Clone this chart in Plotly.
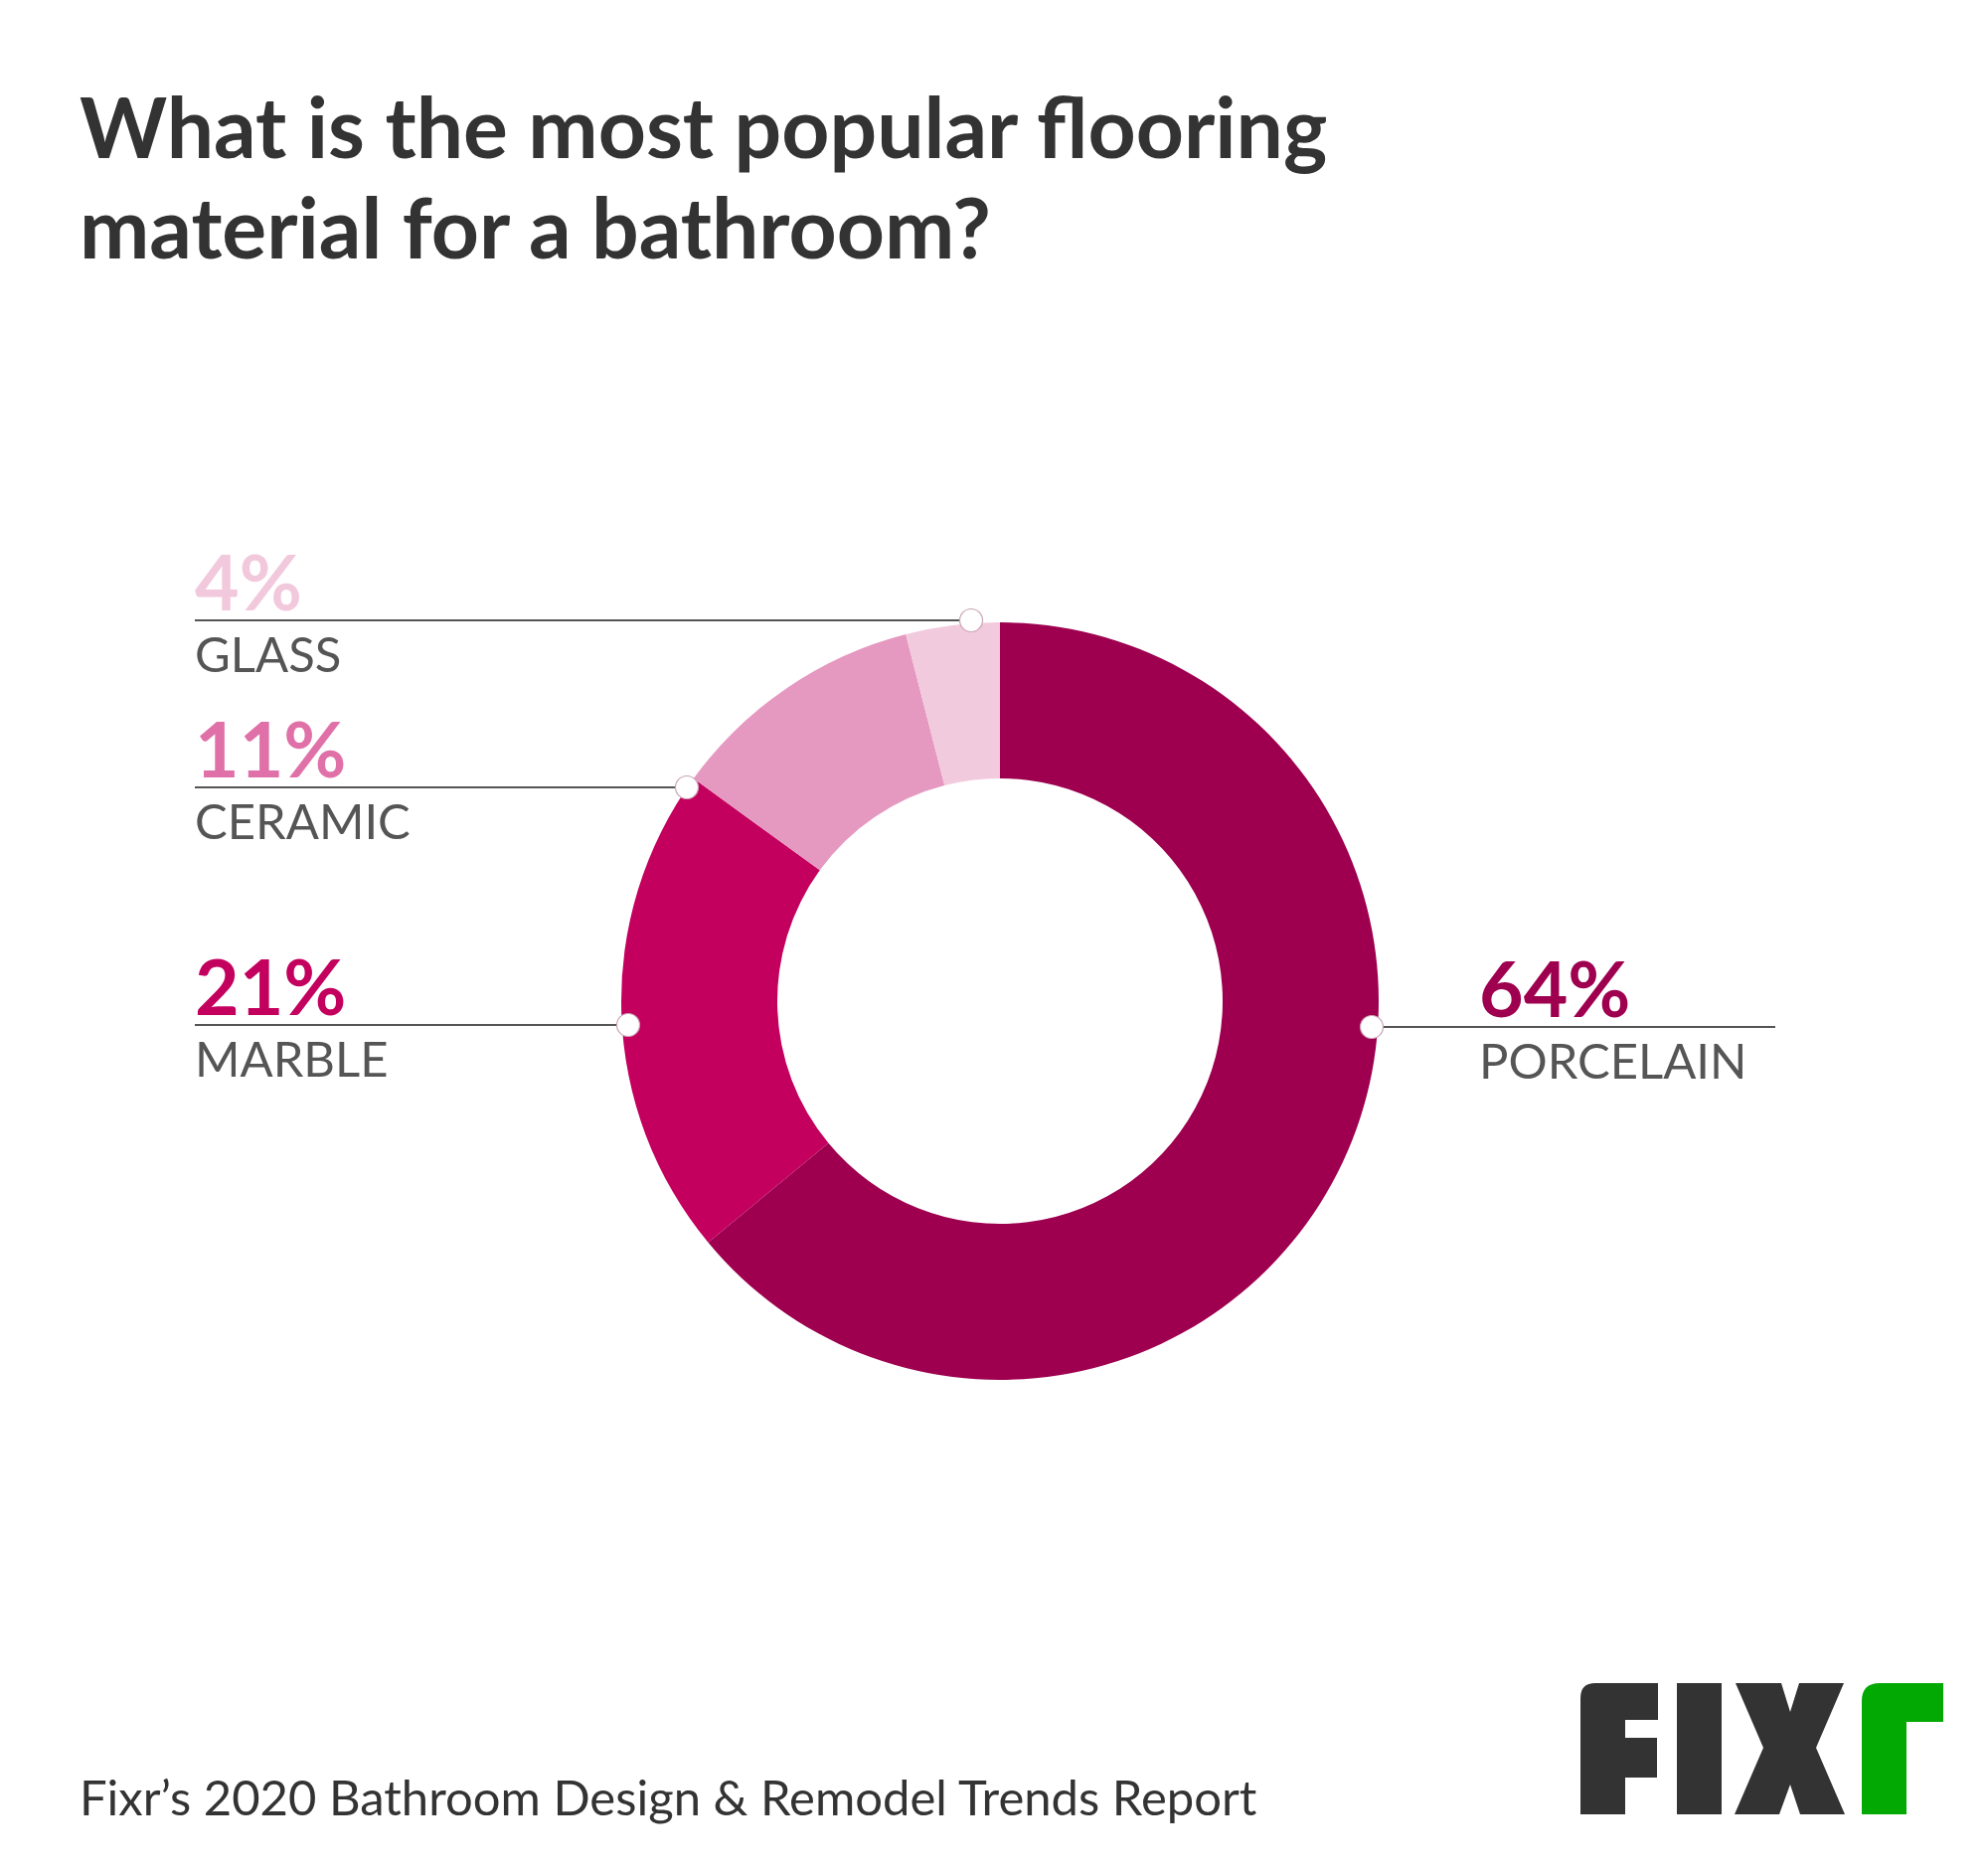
import plotly.graph_objects as go

# ---------------- data ----------------
materials = ["PORCELAIN", "MARBLE", "CERAMIC", "GLASS"]
shares = [64, 21, 11, 4]
slice_colors = ["#9E004F", "#C4005F", "#E699C0", "#F2CADD"]
label_colors = ["#9E004F", "#C4005F", "#E070A8", "#F2C8DC"]

title_lines = ["What is the most popular flooring", "material for a bathroom?"]
source_text = "Fixr\u2019s 2020 Bathroom Design & Remodel Trends Report"

# ---------------- layout constants (pixels) ----------------
W, H = 2000, 1883
CX, CY, R = 1006, 1007, 381
INNER = 224
FONT = "Lato, 'Open Sans', sans-serif"

# leader rows: (line y, dot x, side)
leader = {
    "PORCELAIN": (1033, 1380, "right"),
    "MARBLE": (1031, 632, "left"),
    "CERAMIC": (792, 691, "left"),
    "GLASS": (624, 977, "left"),
}
LEFT_X = 196
RIGHT_END = 1786
RIGHT_TEXT_X = 1488


def px(x):
    return x / W


def py(y):
    return 1 - y / H


fig = go.Figure()

fig.add_trace(go.Pie(
    labels=materials,
    values=shares,
    marker=dict(colors=slice_colors, line=dict(width=0)),
    hole=INNER / R,
    sort=False,
    direction="clockwise",
    rotation=0,
    textinfo="none",
    hoverinfo="none",
    showlegend=False,
    domain=dict(x=[px(CX - R), px(CX + R)], y=[py(CY + R), py(CY - R)]),
))

shapes = []
annotations = []

for name, val, lc in zip(materials, shares, label_colors):
    ly, dot_x, sd = leader[name]
    if sd == "left":
        x0, x1 = LEFT_X, dot_x
        tx = LEFT_X
    else:
        x0, x1 = dot_x, RIGHT_END
        tx = RIGHT_TEXT_X
    shapes.append(dict(type="line", xref="paper", yref="paper",
                       x0=px(x0), x1=px(x1), y0=py(ly), y1=py(ly),
                       line=dict(color="#555555", width=2), layer="above"))
    rr = 11.5
    shapes.append(dict(type="circle", xref="paper", yref="paper",
                       x0=px(dot_x - rr), x1=px(dot_x + rr), y0=py(ly + rr), y1=py(ly - rr),
                       fillcolor="white", line=dict(color="#C9A3B6", width=1.2), layer="above"))
    # percentage
    annotations.append(dict(
        x=px(tx - 2), y=py(ly + 8), xref="paper", yref="paper",
        xanchor="left", yanchor="bottom", showarrow=False,
        text=f"{val}%",
        font=dict(family=FONT, size=77, color=lc, weight=700),
    ))
    # name
    annotations.append(dict(
        x=px(tx - 2), y=py(ly + 2), xref="paper", yref="paper",
        xanchor="left", yanchor="top", showarrow=False,
        text=name,
        font=dict(family=FONT, size=49, color="#555555"),
    ))

# title
for line, base in zip(title_lines, [158, 259]):
    annotations.append(dict(
        x=px(78), y=py(base - 84), xref="paper", yref="paper",
        xanchor="left", yanchor="top", showarrow=False,
        text=line,
        font=dict(family=FONT, size=84, color="#333333", weight=700),
    ))

# footer
annotations.append(dict(
    x=px(78), y=py(1825 - 49), xref="paper", yref="paper",
    xanchor="left", yanchor="top", showarrow=False,
    text=source_text,
    font=dict(family=FONT, size=49, color="#333333"),
))


# ---------------- FIXR logo (drawn as paths) ----------------
def path_from(cmds):
    out = []
    for c in cmds:
        if c[0] in ("M", "L"):
            out.append(f"{c[0]} {px(c[1]):.5f},{py(c[2]):.5f}")
        elif c[0] == "Q":
            out.append(f"Q {px(c[1]):.5f},{py(c[2]):.5f} {px(c[3]):.5f},{py(c[4]):.5f}")
        elif c[0] == "Z":
            out.append("Z")
    return " ".join(out)


dark = "#333333"
green = "#03A903"
logo_F = [("M", 1590, 1825), ("L", 1590, 1708), ("Q", 1590, 1693, 1605, 1693),
          ("L", 1668, 1693), ("L", 1668, 1730), ("L", 1635, 1730), ("L", 1635, 1748),
          ("L", 1667, 1748), ("L", 1667, 1788), ("L", 1635, 1788), ("L", 1635, 1825), ("Z",)]
logo_I = [("M", 1687, 1693), ("L", 1732, 1693), ("L", 1732, 1825), ("L", 1687, 1825), ("Z",)]
logo_X = [("M", 1746, 1693), ("L", 1792, 1693), ("L", 1801, 1722), ("L", 1810, 1693),
          ("L", 1855, 1693), ("L", 1827, 1758), ("L", 1856, 1825), ("L", 1811, 1825),
          ("L", 1801, 1795), ("L", 1790, 1825), ("L", 1745, 1825), ("L", 1774, 1758), ("Z",)]
logo_r = [("M", 1873, 1825), ("L", 1873, 1711), ("Q", 1873, 1693, 1891, 1693),
          ("L", 1955, 1693), ("L", 1955, 1732), ("L", 1918, 1732), ("L", 1918, 1825), ("Z",)]
for cmds, col in [(logo_F, dark), (logo_I, dark), (logo_X, dark), (logo_r, green)]:
    shapes.append(dict(type="path", xref="paper", yref="paper", path=path_from(cmds),
                       fillcolor=col, line=dict(width=0), layer="above"))

fig.update_layout(
    width=W, height=H,
    margin=dict(l=0, r=0, t=0, b=0),
    paper_bgcolor="white",
    plot_bgcolor="white",
    shapes=shapes,
    annotations=annotations,
    showlegend=False,
)

fig.write_html("out.html", config={"displayModeBar": False})
